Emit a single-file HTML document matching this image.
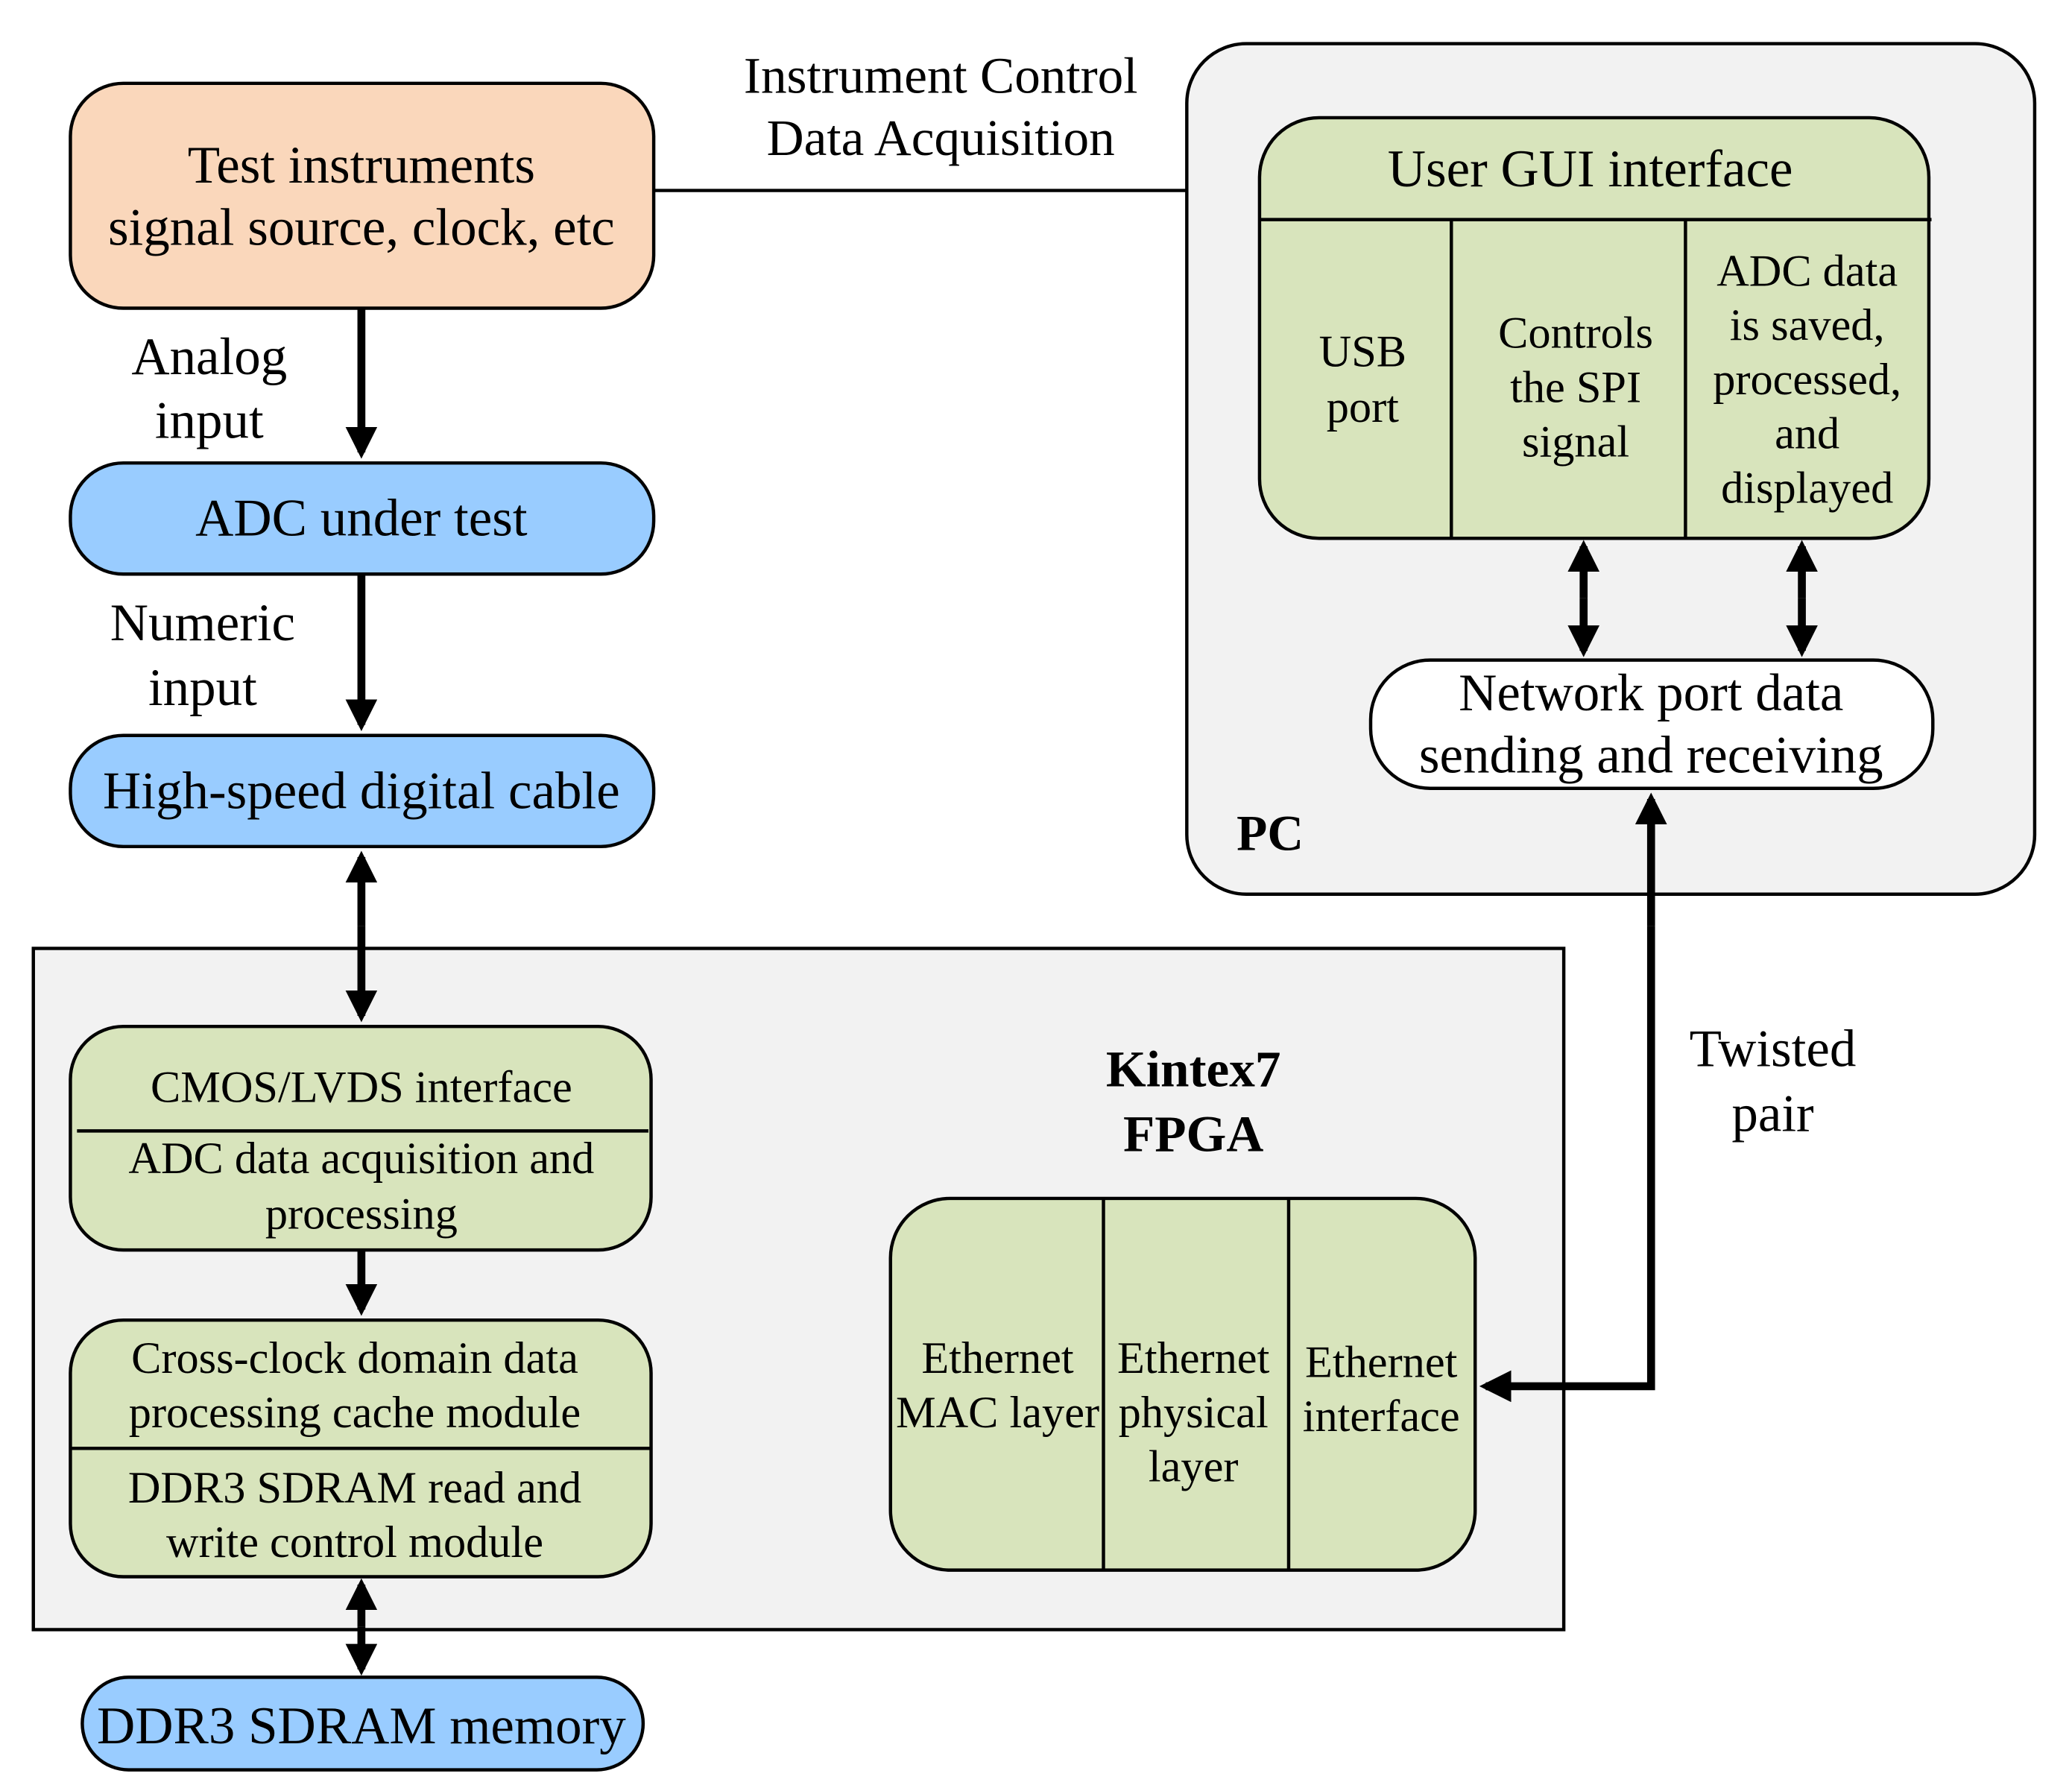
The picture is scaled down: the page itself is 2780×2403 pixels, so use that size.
<!DOCTYPE html>
<html><head><meta charset="utf-8"><style>html,body{margin:0;padding:0;background:#fff}svg{display:block}</style></head>
<body>
<svg width="2780" height="2403" viewBox="0 0 1566 1354" xmlns="http://www.w3.org/2000/svg">
<defs>
<marker id="ah" markerWidth="4" markerHeight="4" refX="3.2" refY="2" orient="auto" markerUnits="strokeWidth">
<path d="M0,0 L4,2 L0,4 z" fill="#000"/>
</marker>
</defs>
<g font-family="'Liberation Serif', serif" fill="#000" text-anchor="middle" dominant-baseline="central">
<rect x="897" y="33" width="641" height="643" rx="45" fill="#f2f2f2" stroke="#000" stroke-width="2.5"/>
<rect x="25" y="717" width="1157" height="515" fill="#f2f2f2" stroke="#000" stroke-width="2.5"/>
<line x1="494" y1="144" x2="897" y2="144" stroke="#000" stroke-width="2.5"/>
<text x="711" y="57" font-size="39">Instrument Control</text>
<text x="711" y="104" font-size="39">Data Acquisition</text>
<rect x="53" y="63" width="441" height="170" rx="40" fill="#fad7bb" stroke="#000" stroke-width="2.5"/>
<text x="273" y="125" font-size="40">Test instruments</text>
<text x="273" y="172" font-size="40">signal source, clock, etc</text>
<g stroke="#000" stroke-width="6" fill="none">
<line x1="273" y1="233" x2="273" y2="342" marker-end="url(#ah)"/>
<line x1="273" y1="434" x2="273" y2="548" marker-end="url(#ah)"/>
<line x1="273" y1="700" x2="273" y2="648" marker-end="url(#ah)"/>
<line x1="273" y1="700" x2="273" y2="768" marker-end="url(#ah)"/>
<line x1="273" y1="945" x2="273" y2="990" marker-end="url(#ah)"/>
<line x1="273" y1="1230" x2="273" y2="1198" marker-end="url(#ah)"/>
<line x1="273" y1="1230" x2="273" y2="1262" marker-end="url(#ah)"/>
<line x1="1197" y1="452" x2="1197" y2="413" marker-end="url(#ah)"/>
<line x1="1197" y1="452" x2="1197" y2="492" marker-end="url(#ah)"/>
<line x1="1362" y1="452" x2="1362" y2="413" marker-end="url(#ah)"/>
<line x1="1362" y1="452" x2="1362" y2="492" marker-end="url(#ah)"/>
<polyline points="1248,700 1248,1048 1123,1048" marker-end="url(#ah)"/>
<line x1="1248" y1="700" x2="1248" y2="604" marker-end="url(#ah)"/>
</g>
<text x="158" y="270" font-size="40">Analog</text>
<text x="158" y="318" font-size="40">input</text>
<text x="153" y="471" font-size="40">Numeric</text>
<text x="153" y="520" font-size="40">input</text>
<rect x="53" y="350" width="441" height="84" rx="40" fill="#99ccff" stroke="#000" stroke-width="2.5"/>
<text x="273" y="392" font-size="40">ADC under test</text>
<rect x="53" y="556" width="441" height="84" rx="40" fill="#99ccff" stroke="#000" stroke-width="2.5"/>
<text x="273" y="598" font-size="40">High-speed digital cable</text>
<rect x="53" y="776" width="439" height="169" rx="40" fill="#d8e4bc" stroke="#000" stroke-width="2.5"/>
<line x1="58" y1="855" x2="490" y2="855" stroke="#000" stroke-width="2.5"/>
<text x="273" y="822" font-size="34">CMOS/LVDS interface</text>
<text x="273" y="876" font-size="34">ADC data acquisition and</text>
<text x="273" y="918" font-size="34">processing</text>
<rect x="53" y="998" width="439" height="194" rx="40" fill="#d8e4bc" stroke="#000" stroke-width="2.5"/>
<line x1="53" y1="1095" x2="492" y2="1095" stroke="#000" stroke-width="2.5"/>
<text x="268" y="1027" font-size="34">Cross-clock domain data</text>
<text x="268" y="1068" font-size="34">processing cache module</text>
<text x="268" y="1125" font-size="34">DDR3 SDRAM read and</text>
<text x="268" y="1166" font-size="34">write control module</text>
<rect x="62" y="1268" width="424" height="70" rx="35" fill="#99ccff" stroke="#000" stroke-width="2.5"/>
<text x="273" y="1305" font-size="40">DDR3 SDRAM memory</text>
<text x="902" y="808" font-size="39" font-weight="bold">Kintex7</text>
<text x="902" y="857" font-size="39" font-weight="bold">FPGA</text>
<rect x="673" y="906" width="442" height="281" rx="45" fill="#d8e4bc" stroke="#000" stroke-width="2.5"/>
<line x1="834" y1="906" x2="834" y2="1187" stroke="#000" stroke-width="2.5"/>
<line x1="974" y1="906" x2="974" y2="1187" stroke="#000" stroke-width="2.5"/>
<text x="754" y="1027" font-size="34">Ethernet</text>
<text x="754" y="1068" font-size="34">MAC layer</text>
<text x="902" y="1027" font-size="34">Ethernet</text>
<text x="902" y="1068" font-size="34">physical</text>
<text x="902" y="1109" font-size="34">layer</text>
<text x="1044" y="1030" font-size="34">Ethernet</text>
<text x="1044" y="1071" font-size="34">interface</text>
<text x="1340" y="793" font-size="40">Twisted</text>
<text x="1340" y="842" font-size="40">pair</text>
<rect x="952" y="89" width="506" height="318" rx="45" fill="#d8e4bc" stroke="#000" stroke-width="2.5"/>
<line x1="952" y1="166" x2="1460" y2="166" stroke="#000" stroke-width="2.5"/>
<line x1="1097" y1="166" x2="1097" y2="407" stroke="#000" stroke-width="2.5"/>
<line x1="1274" y1="166" x2="1274" y2="407" stroke="#000" stroke-width="2.5"/>
<text x="1202" y="128" font-size="40">User GUI interface</text>
<text x="1030" y="266" font-size="34">USB</text>
<text x="1030" y="308" font-size="34">port</text>
<text x="1191" y="252" font-size="34">Controls</text>
<text x="1191" y="293" font-size="34">the SPI</text>
<text x="1191" y="334" font-size="34">signal</text>
<text x="1366" y="205" font-size="34">ADC data</text>
<text x="1366" y="246" font-size="34">is saved,</text>
<text x="1366" y="287" font-size="34">processed,</text>
<text x="1366" y="328" font-size="34">and</text>
<text x="1366" y="369" font-size="34">displayed</text>
<rect x="1036" y="499" width="425" height="97" rx="45" fill="#fff" stroke="#000" stroke-width="2.5"/>
<text x="1248" y="524" font-size="40">Network port data</text>
<text x="1248" y="571" font-size="40">sending and receiving</text>
<text x="960" y="630" font-size="38" font-weight="bold">PC</text>
</g>
</svg>
</body></html>
